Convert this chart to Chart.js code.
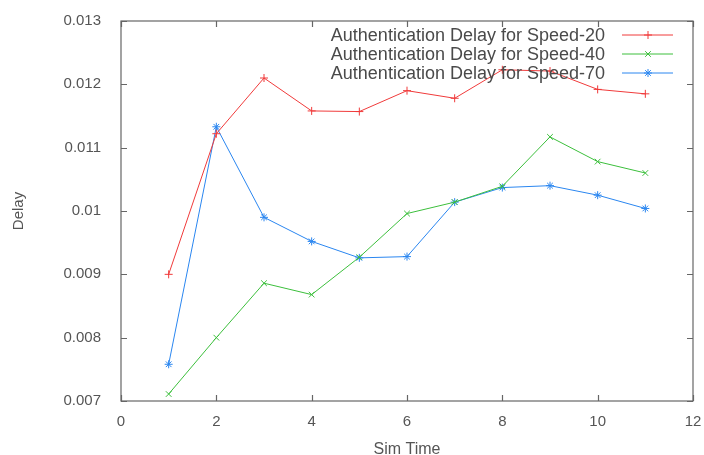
<!DOCTYPE html>
<html><head><meta charset="utf-8">
<script src="https://cdn.jsdelivr.net/npm/chart.js@4"></script>
<style>html,body{margin:0;padding:0;background:#fff}#wrap{width:704px;height:455px}</style>
</head><body><div id="wrap"><canvas id="c" width="704" height="455"></canvas></div>
<script>
const simTime = [1,2,3,4,5,6,7,8,9,10,11];
const speed20 = [0.00900,0.01122,0.01210,0.01158,0.01157,0.01190,0.01178,0.01223,0.01221,0.01192,0.01185];
const speed40 = [0.00711,0.00800,0.00886,0.00868,0.00927,0.00996,0.01014,0.01039,0.01117,0.01078,0.01060];
const speed70 = [0.00758,0.01133,0.00990,0.00952,0.00926,0.00928,0.01014,0.01037,0.01040,0.01025,0.01004];
const seriesLabels = ['Authentication Delay for Speed-20','Authentication Delay for Speed-40','Authentication Delay for Speed-70'];
const xTicks = [0,2,4,6,8,10,12];
const yTicks = [0.007,0.008,0.009,0.010,0.011,0.012,0.013];

const FONT = '"Liberation Sans", Arial, sans-serif';
const TXT = '#555';
const FRAME = '#666';
const colors = ['#f03a3a','#3cbf3c','#2a86f0'];
const styles = ['cross','crossRot','star'];

function ds(i, vals){
  return {label: seriesLabels[i], data: simTime.map((x,k)=>({x, y: vals[k]})),
    borderColor: colors[i], backgroundColor: colors[i], borderWidth: 1,
    pointStyle: styles[i], pointRadius: 4, pointBorderWidth: 1, pointHoverRadius: 4, tension: 0};
}

const framePlugin = {
  id: 'frame',
  afterDatasetsDraw(chart){
    const {ctx, chartArea: a, scales} = chart;
    ctx.save();
    ctx.strokeStyle = FRAME; ctx.lineWidth = 1.2;
    ctx.strokeRect(a.left, a.top, a.right - a.left, a.bottom - a.top);
    const L = 6;
    ctx.beginPath();
    xTicks.forEach(v => { const px = Math.round(scales.x.getPixelForValue(v)) + 0.5;
      ctx.moveTo(px, a.bottom); ctx.lineTo(px, a.bottom - L);
      ctx.moveTo(px, a.top); ctx.lineTo(px, a.top + L); });
    yTicks.forEach(v => { const py = Math.round(scales.y.getPixelForValue(v)) + 0.5;
      ctx.moveTo(a.left, py); ctx.lineTo(a.left + L, py);
      ctx.moveTo(a.right, py); ctx.lineTo(a.right - L, py); });
    ctx.stroke();
    // legend
    ctx.font = '18px ' + FONT;
    ctx.textAlign = 'right'; ctx.textBaseline = 'middle';
    chart.data.datasets.forEach((d, i) => {
      const y = a.top + 14 + i * 19;
      ctx.fillStyle = '#4a4a4a';
      ctx.fillText(d.label, a.right - 88, y + 1);
      ctx.strokeStyle = d.borderColor; ctx.lineWidth = 1;
      ctx.beginPath(); ctx.moveTo(a.right - 71, y); ctx.lineTo(a.right - 20, y); ctx.stroke();
      Chart.helpers.drawPoint(ctx, {pointStyle: d.pointStyle, radius: 4, borderWidth: 1}, a.right - 45, y);
    });
    ctx.restore();
  }
};

new Chart(document.getElementById('c'), {
  type: 'line',
  data: {datasets: [ds(0, speed20), ds(1, speed40), ds(2, speed70)]},
  options: {
    responsive: false, animation: false,
    layout: {padding: {left: 0, right: 11, top: 21, bottom: 0}},
    plugins: {legend: {display: false}, tooltip: {enabled: false}},
    scales: {
      x: {type: 'linear', min: 0, max: 12,
        afterBuildTicks: s => { s.ticks = xTicks.map(v => ({value: v})); },
        afterFit: s => { s.height = 54; s.paddingLeft = 0; s.paddingRight = 0; },
        grid: {display: false, drawTicks: false}, border: {display: false},
        ticks: {color: TXT, font: {size: 15, family: FONT}, padding: 12, maxRotation: 0},
        title: {display: true, text: 'Sim Time', color: TXT, font: {size: 16, family: FONT}, padding: {top: 10, bottom: -4}}},
      y: {type: 'linear', min: 0.007, max: 0.013,
        afterBuildTicks: s => { s.ticks = yTicks.map(v => ({value: v})); },
        afterFit: s => { s.width = 121; s.paddingTop = 0; s.paddingBottom = 0; },
        grid: {display: false, drawTicks: false}, border: {display: false},
        ticks: {color: TXT, font: {size: 15, family: FONT}, padding: 20,
          callback: v => String(parseFloat(v.toFixed(4)))},
        title: {display: true, text: 'Delay', color: TXT, font: {size: 15, family: FONT}, padding: {top: 10, bottom: 0}}}
    }
  },
  plugins: [framePlugin]
});
</script></body></html>
